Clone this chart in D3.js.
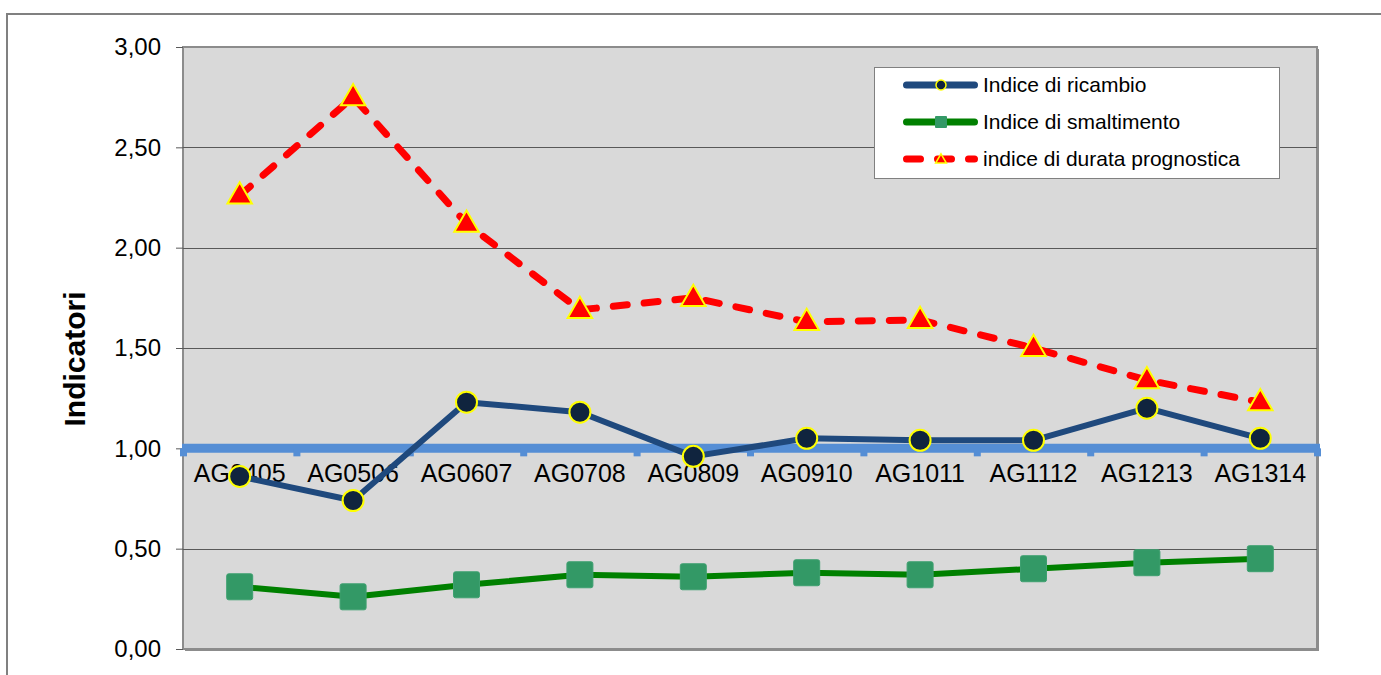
<!DOCTYPE html>
<html>
<head>
<meta charset="utf-8">
<style type="text/css">
body { margin: 0; background: #fff; }
svg { display: block; font-family: "Liberation Sans", Arial, sans-serif; }
.axis .domain { display: none; }
</style>
</head>
<body>
<svg width="1381" height="675"></svg>
<script src="https://cdnjs.cloudflare.com/ajax/libs/d3/7.8.5/d3.min.js"></script>
<script>

var categories = ["AG0405", "AG0506", "AG0607", "AG0708", "AG0809", "AG0910", "AG1011", "AG1112", "AG1213", "AG1314"];
var ricambio = [0.86, 0.74, 1.23, 1.18, 0.96, 1.05, 1.04, 1.04, 1.20, 1.05];
var smaltimento = [0.31, 0.26, 0.32, 0.37, 0.36, 0.38, 0.37, 0.40, 0.43, 0.45];
var durata = [2.26, 2.75, 2.12, 1.69, 1.75, 1.63, 1.64, 1.50, 1.34, 1.23];
var yTicks = [0, 0.5, 1, 1.5, 2, 2.5, 3];
var seriesNames = ["Indice di ricambio", "Indice di smaltimento", "indice di durata prognostica"];

var svg = d3.select("svg");

var plotLeft = 183, plotRight = 1317, plotTop = 47, plotBottom = 649;

var x = d3.scaleBand()
		.domain(categories)
		.range([plotLeft, plotRight]);

var y = d3.scaleLinear()
		.domain([0, 3])
		.range([plotBottom, plotTop]);

var it = d3.formatLocale({decimal: ",", thousands: ".", grouping: [3], currency: ["", "€"]});
var fmt = it.format(".2f");

function cx(d, i) { return x(categories[i]) + x.bandwidth() / 2; }

// outer chart frame
svg.append("rect")
		.attr("x", 7).attr("y", 14)
		.attr("width", 1390).attr("height", 700)
		.attr("fill", "#fff")
		.attr("stroke", "#808080")
		.attr("stroke-width", 2);

// plot area with a small shadow on right/bottom
svg.append("rect")
		.attr("x", plotLeft + 2).attr("y", plotTop + 2)
		.attr("width", plotRight - plotLeft).attr("height", plotBottom - plotTop)
		.attr("fill", "#8c8c8c");
svg.append("rect")
		.attr("x", plotLeft).attr("y", plotTop)
		.attr("width", plotRight - plotLeft).attr("height", plotBottom - plotTop)
		.attr("fill", "#d9d9d9")
		.attr("stroke", "#8c8c8c")
		.attr("stroke-width", 2);

// gridlines
svg.append("g")
	.selectAll("line")
	.data(yTicks.filter(function(d) { return d > 0 && d < 3; }))
	.enter().append("line")
		.attr("x1", plotLeft).attr("x2", plotRight)
		.attr("y1", function(d) { return Math.round(y(d)) + 0.5; })
		.attr("y2", function(d) { return Math.round(y(d)) + 0.5; })
		.attr("stroke", "#595959")
		.attr("stroke-width", 1);

// y axis
var yAxis = svg.append("g")
		.attr("class", "axis")
		.attr("transform", "translate(" + plotLeft + ",0)")
		.call(d3.axisLeft(y).tickValues(yTicks).tickSize(7).tickPadding(15).tickFormat(fmt));
yAxis.selectAll("line").attr("stroke", "#595959");
yAxis.selectAll("text")
		.attr("font-size", 24)
		.attr("fill", "#000")
		.attr("font-family", "Liberation Sans, Arial, sans-serif");

svg.append("text")
		.attr("transform", "translate(85," + 359 + ") rotate(-90)")
		.attr("text-anchor", "middle")
		.attr("font-size", 30)
		.attr("font-weight", "bold")
		.text("Indicatori");

// category axis crossing at 1,00
var axisY = y(1);
svg.append("line")
		.attr("x1", plotLeft - 1).attr("x2", plotRight + 3)
		.attr("y1", axisY).attr("y2", axisY)
		.attr("stroke", "#558ed5")
		.attr("stroke-width", 9);
var bounds = categories.map(function(c) { return x(c); }).concat([plotRight]);
svg.append("g")
	.selectAll("rect")
	.data(bounds)
	.enter().append("rect")
		.attr("x", function(d) { return d - 3; })
		.attr("y", axisY)
		.attr("width", 7)
		.attr("height", 8)
		.attr("fill", "#558ed5");

svg.append("g")
	.selectAll("text")
	.data(categories)
	.enter().append("text")
		.attr("x", function(d) { return x(d) + x.bandwidth() / 2; })
		.attr("y", 482)
		.attr("text-anchor", "middle")
		.attr("font-size", 25)
		.text(function(d) { return d; });

var line = d3.line()
		.x(cx)
		.y(function(d) { return y(d); });

// smaltimento
svg.append("path")
		.datum(smaltimento)
		.attr("d", line)
		.attr("fill", "none")
		.attr("stroke", "#008000")
		.attr("stroke-width", 6)
		.attr("stroke-linejoin", "round");
svg.append("g")
	.selectAll("rect")
	.data(smaltimento)
	.enter().append("rect")
		.attr("x", function(d, i) { return cx(d, i) - 13; })
		.attr("y", function(d) { return y(d) - 13; })
		.attr("width", 26).attr("height", 26)
		.attr("rx", 2)
		.attr("fill", "#339966")
		.attr("stroke", "#3ea070")
		.attr("stroke-width", 1);

// durata prognostica
svg.append("path")
		.datum(durata)
		.attr("d", line)
		.attr("fill", "none")
		.attr("stroke", "#ff0000")
		.attr("stroke-width", 7)
		.attr("stroke-linecap", "round")
		.attr("stroke-dasharray", "14,17");

var tri = d3.symbol().type(d3.symbolTriangle).size(260);
svg.append("g")
	.selectAll("path")
	.data(durata)
	.enter().append("path")
		.attr("d", tri)
		.attr("transform", function(d, i) { return "translate(" + cx(d, i) + "," + (y(d) + 1) + ")"; })
		.attr("fill", "#ff0000")
		.attr("stroke", "#ffff00")
		.attr("stroke-width", 2);

// ricambio
svg.append("path")
		.datum(ricambio)
		.attr("d", line)
		.attr("fill", "none")
		.attr("stroke", "#1f497d")
		.attr("stroke-width", 6)
		.attr("stroke-linejoin", "round");
svg.append("g")
	.selectAll("circle")
	.data(ricambio)
	.enter().append("circle")
		.attr("cx", cx)
		.attr("cy", function(d) { return y(d); })
		.attr("r", 10.5)
		.attr("fill", "#10243e")
		.attr("stroke", "#ffff00")
		.attr("stroke-width", 2);

// legend
var legend = svg.append("g").attr("transform", "translate(874,67)");
legend.append("rect")
		.attr("x", 0.5).attr("y", 0.5)
		.attr("width", 405).attr("height", 111)
		.attr("fill", "#fff")
		.attr("stroke", "#808080")
		.attr("stroke-width", 1);

var rowY = [18, 55, 92];
var lineColors = ["#1f497d", "#008000", "#ff0000"];

legend.selectAll("line.sample")
	.data(seriesNames)
	.enter().append("line")
		.attr("class", "sample")
		.attr("x1", 32.5).attr("x2", 100.5)
		.attr("y1", function(d, i) { return rowY[i]; })
		.attr("y2", function(d, i) { return rowY[i]; })
		.attr("stroke", function(d, i) { return lineColors[i]; })
		.attr("stroke-width", 7)
		.attr("stroke-linecap", "round")
		.attr("stroke-dasharray", function(d, i) { return i === 2 ? "14,17" : null; });

legend.append("circle")
		.attr("cx", 67).attr("cy", rowY[0])
		.attr("r", 5)
		.attr("fill", "#10243e")
		.attr("stroke", "#ffff00")
		.attr("stroke-width", 1.5);
legend.append("rect")
		.attr("x", 61).attr("y", rowY[1] - 6)
		.attr("width", 12).attr("height", 12)
		.attr("rx", 1)
		.attr("fill", "#339966");
legend.append("path")
		.attr("d", d3.symbol().type(d3.symbolTriangle).size(50))
		.attr("transform", "translate(67," + (rowY[2] + 1) + ")")
		.attr("fill", "#ff0000")
		.attr("stroke", "#ffff00")
		.attr("stroke-width", 1.5);

legend.selectAll("text")
	.data(seriesNames)
	.enter().append("text")
		.attr("x", 109)
		.attr("y", function(d, i) { return rowY[i] + 7; })
		.attr("font-size", 21)
		.text(function(d) { return d; });

</script>
</body>
</html>
